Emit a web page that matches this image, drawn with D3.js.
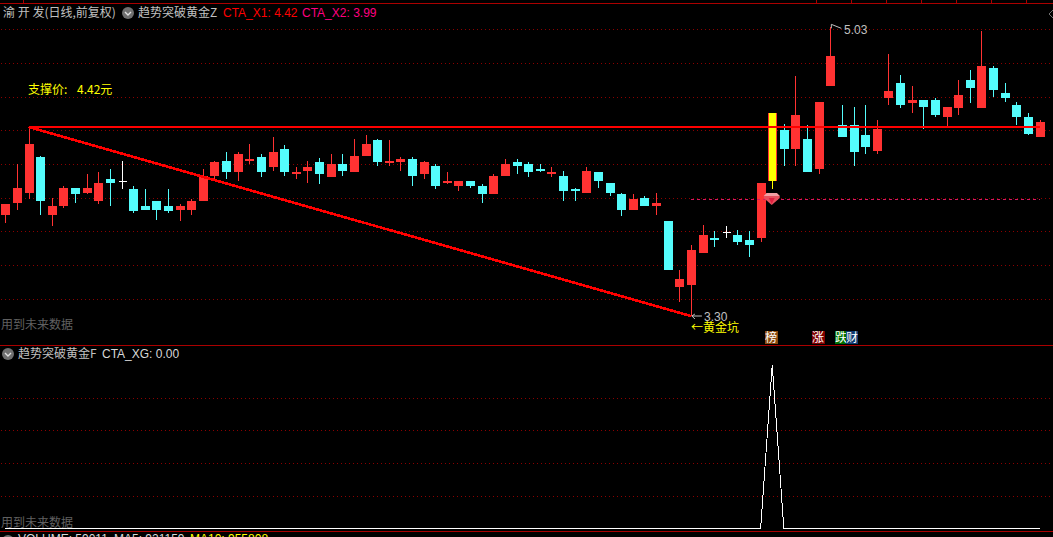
<!DOCTYPE html>
<html><head><meta charset="utf-8">
<script src="https://cdn.jsdelivr.net/npm/d3@7"></script>
<style>html,body{margin:0;padding:0;background:#000;overflow:hidden}svg{display:block}</style>
</head><body><svg id="c" width="1053" height="537"></svg>
<script>
// open, close, high, low of each candle (yuan)
const opens=[3.904,3.976,4.036,4.252,3.904,3.958,4.066,4.036,3.988,4.12,4.108,4.06,3.958,3.988,3.958,3.934,3.934,3.988,4.138,4.228,4.162,4.228,4.252,4.192,4.3,4.15,4.168,4.222,4.132,4.21,
4.162,4.258,4.354,4.222,4.222,4.24,4.15,4.198,4.096,4.078,4.108,4.078,4.03,4.138,4.222,4.21,4.18,4.15,4.138,4.06,4.036,4.162,4.096,4.03,3.934,4.006,3.958,3.868,3.472,3.484,
3.676,3.766,3.802,3.784,3.754,3.766,4.108,4.414,4.3,4.36,4.18,4.678,4.444,4.444,4.384,4.288,4.606,4.696,4.576,4.594,4.594,4.492,4.546,4.714,4.546,4.786,4.636,4.564,4.492,4.372];
const closes=[3.97,4.066,4.33,3.988,3.958,4.066,4.03,4.066,4.096,4.096,4.108,3.928,3.934,3.934,3.928,3.958,3.988,4.138,4.222,4.162,4.27,4.24,4.162,4.282,4.162,4.162,4.192,4.15,4.21,4.168,
4.258,4.33,4.222,4.228,4.24,4.138,4.222,4.078,4.108,4.108,4.078,4.03,4.138,4.21,4.198,4.162,4.168,4.162,4.048,4.048,4.168,4.108,4.036,3.934,4.0,3.958,3.976,3.574,3.52,3.694,
3.784,3.754,3.802,3.742,3.724,4.096,4.516,4.3,4.504,4.162,4.582,4.858,4.372,4.282,4.312,4.42,4.648,4.564,4.594,4.552,4.504,4.552,4.624,4.666,4.798,4.654,4.606,4.492,4.39,4.462];
const highs=[3.97,4.21,4.434,4.258,4.006,4.078,4.066,4.15,4.162,4.18,4.228,4.078,4.06,3.988,4.06,3.97,4.0,4.18,4.228,4.282,4.282,4.33,4.27,4.372,4.324,4.192,4.228,4.246,4.27,4.27,
4.36,4.384,4.36,4.354,4.252,4.252,4.228,4.21,4.162,4.108,4.108,4.09,4.15,4.24,4.24,4.222,4.21,4.192,4.168,4.066,4.192,4.162,4.096,4.036,4.03,4.018,4.036,3.868,3.574,3.724,
3.844,3.808,3.838,3.814,3.808,4.096,4.516,4.45,4.738,4.444,4.582,5.03,4.564,4.552,4.564,4.474,4.87,4.744,4.678,4.594,4.606,4.552,4.714,4.774,5.008,4.798,4.696,4.584,4.516,4.474];
const lows=[3.858,3.934,4.0,3.904,3.838,3.946,3.976,4.03,3.97,3.958,4.06,3.916,3.934,3.874,3.916,3.868,3.904,3.988,4.114,4.12,4.108,4.21,4.132,4.168,4.138,4.12,4.096,4.09,4.132,4.138,
4.162,4.258,4.198,4.198,4.168,4.078,4.12,4.06,4.09,4.048,4.066,3.976,4.03,4.138,4.15,4.132,4.162,4.132,3.988,3.988,4.036,4.066,4.018,3.898,3.934,3.958,3.904,3.574,3.382,3.298,
3.676,3.712,3.766,3.724,3.652,3.742,4.06,4.198,4.198,4.162,4.15,4.678,4.372,4.198,4.27,4.27,4.564,4.546,4.516,4.42,4.492,4.434,4.504,4.576,4.546,4.612,4.582,4.444,4.384,4.372];
const dojiIdx=[10,62];
const signalIdx=66;
const supportValue=4.432, supportFrom=2, supportTo=89;
const lowLineFrom=2, lowLineTo=59, lowLineEndValue=3.298;
const dashValue=4.0, dashFrom=59, dashTo=89;
const xgValues=[0,0,0,0,0,0,0,0,0,0,0,0,0,0,0,0,0,0,0,0,0,0,0,0,0,0,0,0,0,0,0,0,0,0,0,0,0,0,0,0,0,0,0,0,0,0,0,0,0,0,0,0,0,0,0,0,0,0,0,0,0,0,0,0,0,0,1,0,0,0,0,0,0,0,0,0,0,0,0,0,0,0,0,0,0,0,0,0,0,0];
const priceGrid=[5.02,4.816,4.612,4.414,4.21,4.006,3.808,3.604,3.4];
const lowerGrid=[0.8,0.6,0.4,0.2];
const topTicks=[1.55,69.8,72.8,75.8,78.8,81.8,84.8,87.8];

const W=1053,H=537;
const svg=d3.select('#c');
svg.append('rect').attr('width',W).attr('height',H).attr('fill','#000');
const x=d3.scaleLinear().domain([0,89]).range([5.3,1039.5]);
const y=d3.scaleLinear().domain([3.124,5.194]).range([345,0]);
const y2=d3.scaleLinear().domain([0,1]).range([528.5,365]);
const up='#ff3232',down='#54fcfc',grid='#8c0000',frame='#aa0000';
const cjk='"Noto Sans CJK SC","Liberation Sans",sans-serif';
const px=v=>Math.round(v)+.5;

// frames and top ticks
const fr=svg.append('g').attr('shape-rendering','crispEdges').attr('stroke',frame);
[3.5,345.5,531.5].forEach(v=>fr.append('line').attr('x1',0).attr('x2',W).attr('y1',v).attr('y2',v));
topTicks.forEach(t=>fr.append('line').attr('x1',px(x(t))).attr('x2',px(x(t))).attr('y1',0).attr('y2',3));

// grid
const dotted=(g,v)=>g.append('line').attr('x1',1).attr('x2',W).attr('y1',v).attr('y2',v)
  .attr('stroke',grid).attr('stroke-dasharray','1 3').attr('shape-rendering','crispEdges');
const gg=svg.append('g');
priceGrid.forEach(p=>dotted(gg,px(y(p))));
lowerGrid.forEach(p=>dotted(gg,px(y2(p))));

// candles
const g=svg.append('g').attr('shape-rendering','crispEdges');
opens.forEach((o,i)=>{
  const c=closes[i],isDoji=dojiIdx.includes(i),isSig=i===signalIdx;
  const col=isDoji?'#fff':(c>=o?up:down);
  const cx=Math.round(x(i))+.5;
  g.append('line').attr('x1',cx).attr('x2',cx).attr('y1',y(highs[i])).attr('y2',y(lows[i]))
    .attr('stroke',isSig?'#ffff00':col);
  const t=y(Math.max(o,c)),b=y(Math.min(o,c));
  if(isDoji){ g.append('line').attr('x1',cx-4).attr('x2',cx+4).attr('y1',px(t)).attr('y2',px(t)).attr('stroke',col); return; }
  if(isSig){
    g.append('rect').attr('x',cx-4.5).attr('width',9).attr('y',t).attr('height',b-t).attr('fill',up);
    g.append('rect').attr('x',cx-3.5).attr('width',7).attr('y',t).attr('height',b-t).attr('fill','#ffff00');
    return;
  }
  g.append('rect').attr('x',cx-4.5).attr('width',9).attr('y',t).attr('height',Math.max(2,b-t)).attr('fill',col);
});

// dashed level
svg.append('line').attr('x1',x(dashFrom)).attr('x2',x(dashTo)).attr('y1',px(y(dashValue))).attr('y2',px(y(dashValue)))
  .attr('stroke','#d81860').attr('stroke-dasharray','3 3').attr('shape-rendering','crispEdges');

// gem
const gx=x(signalIdx)-.5,gy=y(dashValue);
const gem=svg.append('g').attr('transform',`translate(${gx},${gy})`);
gem.append('path').attr('d','M-5-6H5L8-3 8-1 0 6-8-1-8-3Z').attr('fill','#e8505e');
gem.append('path').attr('d','M-5-6H5L8-3H-8Z').attr('fill','#f4a0a4');
gem.append('path').attr('d','M-3-1H3L0 5Z').attr('fill','#e02040');

// support and trend lines
const red=svg.append('g').attr('stroke','#ff0000').attr('shape-rendering','crispEdges');
red.append('line').attr('stroke-width',2).attr('x1',x(supportFrom)).attr('x2',x(supportTo)).attr('y1',y(supportValue)).attr('y2',y(supportValue));
red.append('line').attr('stroke-width',2.6).attr('x1',x(lowLineFrom)).attr('x2',x(lowLineTo)).attr('y1',y(supportValue)).attr('y2',y(lowLineEndValue));

// lower panel line
svg.append('path').attr('d',d3.line().x((_,i)=>x(i)).y(d=>y2(d))(xgValues))
  .attr('fill','none').attr('stroke','#fff').attr('stroke-width',1).attr('shape-rendering','crispEdges');

// text helper
const txt=(xp,yp,s,fill,size,fam)=>svg.append('text').attr('x',xp).attr('y',yp).text(s).attr('fill',fill)
  .attr('font-size',size||12).attr('font-family',fam||cjk);
const sans='"Liberation Sans",sans-serif';
txt(3,17,'渝 开 发(日线,前复权)','#c0c0c0',12);
const chev=(cx,cy)=>{
  svg.append('circle').attr('cx',cx).attr('cy',cy).attr('r',6).attr('fill','#707070');
  svg.append('path').attr('d',`M${cx-3} ${cy-1}L${cx} ${cy+2}L${cx+3} ${cy-1}`).attr('stroke','#e0e0e0').attr('stroke-width',1.4).attr('fill','none');
};
chev(128,13);
txt(138,17,'趋势突破黄金Z','#c0c0c0',12);
txt(223,17,'CTA_X1: 4.42','#ff0000',12,sans);
txt(302,17,'CTA_X2: 3.99','#ff0080',12,sans);
txt(28,94,'支撑价:','#ffff00',12);
txt(77,94,'4.42元','#ffff00',12);
txt(1,329,'用到未来数据','#606060',12);
txt(1,527,'用到未来数据','#606060',12);
chev(8,354);
txt(18,358,'趋势突破黄金F','#c0c0c0',12);
txt(102,358,'CTA_XG: 0.00','#d8d8d8',12,sans);
chev(8,541);
txt(18,543,'VOLUME: 59011','#d8d8d8',12,sans);
txt(114,543,'MA5: 921159','#d8d8d8',12,sans);
txt(190,543,'MA10: 955808','#ffff00',12,sans);

// high / low flags
const hx=x(71),hy=y(5.03),lx=x(59),ly=y(lowLineEndValue);
svg.append('path').attr('d',`M${hx+1} ${hy+1}L${hx+1} ${hy-3}M${hx+1} ${hy-3}L${hx+11} ${hy+1}`).attr('stroke','#c0c0c0').attr('fill','none');
txt(844,34,'5.03','#c0c0c0',12,sans);
svg.append('path').attr('d',`M${lx+1} ${ly}L${lx+11} ${ly}M${lx+1} ${ly}L${lx+4} ${ly-2}M${lx+1} ${ly}L${lx+4} ${ly+3}`).attr('stroke','#c0c0c0').attr('fill','none');
txt(704,321,'3.30','#c0c0c0',12,sans);
txt(691,332,'←黄金坑','#ffff00',12);

// badges
const badge=(xp,w,fill,s)=>{
  svg.append('rect').attr('x',xp).attr('y',331).attr('width',w).attr('height',13).attr('fill',fill);
  txt(xp,342,s,'#fff',12);
};
badge(765,13,'#8b4a10','榜');
badge(812,13,'#800000','涨');
badge(835,11,'#007000','跌');
badge(846,12,'#103a70','财');

// right chevron mark
svg.append('path').attr('d','M1053 10L1049 14L1053 18').attr('stroke','#707070').attr('fill','none');
</script></body></html>
